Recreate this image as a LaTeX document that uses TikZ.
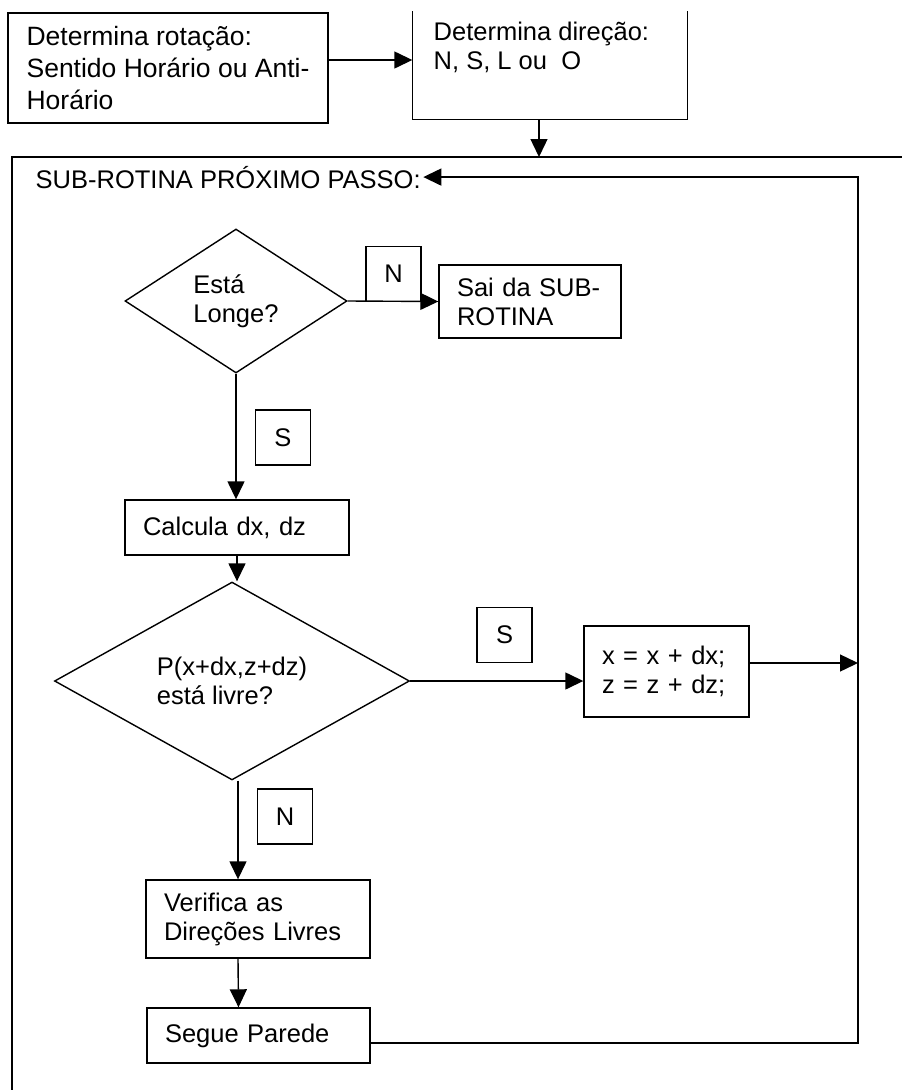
\documentclass[tikz,border=0pt]{standalone}
\usepackage{fontspec}
\setmainfont{Liberation Sans}
\usetikzlibrary{shapes.geometric,arrows.meta}

\tikzset{
  box/.style={draw, rectangle, line width=1.4pt, align=left, inner xsep=18pt, inner ysep=0pt,
    font=\fontsize{25.5}{29}\selectfont},
  decision/.style={draw, diamond, line width=1.4pt, align=left, inner sep=0pt,
    font=\fontsize{25.5}{29}\selectfont},
  answer/.style={draw, rectangle, line width=1.3pt, minimum size=55pt, inner sep=0pt,
    font=\fontsize{25.5}{29}\selectfont},
  txt/.style={inner sep=2pt, align=left, font=\fontsize{25.5}{29}\selectfont},
  arr/.style={line width=1.4pt, -{Triangle[length=18pt,width=17pt]}}
}

\begin{document}
\begin{tikzpicture}[x=1pt,y=-1pt,line width=1.4pt]
\useasboundingbox (0,0) rectangle (902,1090);

% top: rotation and direction
\node[box, minimum width=320pt, minimum height=110pt, font=\fontsize{26.5}{32}\selectfont] (rot) at (168,68)
  {Determina rotação:\\Sentido Horário ou Anti-\\Horário};
\node[minimum width=274pt, minimum height=107pt, inner sep=0pt] (dir) at (550,65.5) {};
\draw (dir.north west) -- (dir.south west) -- (dir.south east) -- (dir.north east);
\node[txt, inner sep=0pt, anchor=north west] (dirtext) at (433,21) {Determina direção:\\N, S, L ou\ \ O};

\draw[arr] ([yshift=8pt]rot.east) -- ([yshift=8pt]rot.east -| dir.west);

% frame of the sub-routine
\coordinate (entry) at (539,157);
\draw (12,1090) -- (12,157) -- (902,157);
\draw[arr] (dir.south -| entry) -- (entry);
\node[txt, anchor=base west] (title) at (33,188) {SUB-ROTINA PRÓXIMO PASSO:};

% first test
\node[decision, minimum width=222pt, minimum height=144pt] (longe) at (236,301) {Está\\Longe?};
\node[answer] (n1) at (393.5,274) {N};
\node[box, text width=146pt, minimum height=73pt] (sai) at (530,301.5) {Sai da SUB-\\ROTINA};
\draw[arr] (longe.east) -- (sai.west);

\node[answer] (s1) at (283,437.5) {S};
\node[box, text width=188pt, minimum height=55pt] (calc) at (237,527.5) {Calcula dx, dz};
\draw[arr] (longe.south) -- (longe.south |- calc.north);

% second test
\node[decision, minimum width=355pt, minimum height=145pt] (livre) at (232,681) {P(x+dx,z+dz)\\está livre?};
\draw[arr] (calc.south) -- (calc.south |- livre.north);

\node[answer] (s2) at (504.5,635) {S};
\node[box, text width=129pt, minimum height=91pt] (upd) at (666.5,671.5) {x = x + dx;\\z = z + dz;};
\draw[arr] (livre.east) -- (livre.east -| upd.west);

\node[answer] (n2) at (285,816.5) {N};
\node[box, text width=188pt, minimum height=78pt] (verif) at (258,919) {Verifica as\\Direções Livres};
\node[box, text width=187pt, minimum height=55pt] (segue) at (258.5,1035.5) {Segue Parede};
\draw[arr] ([xshift=-20pt]livre.south -| verif.north) -- ([xshift=-20pt]verif.north);
\draw[arr] ([xshift=-20pt]verif.south) -- ([xshift=-20pt]segue.north);

% back to the start of the loop
\coordinate (loopr) at (858,0);
\draw[arr] ([yshift=8.5pt]upd.east) -- ([yshift=8.5pt]upd.east -| loopr);
\draw[arr] ([yshift=-7.5pt]segue.east) -- ([yshift=-7.5pt]segue.east -| loopr) -- (loopr |- title.east) -- (title.east);
\end{tikzpicture}
\end{document}
